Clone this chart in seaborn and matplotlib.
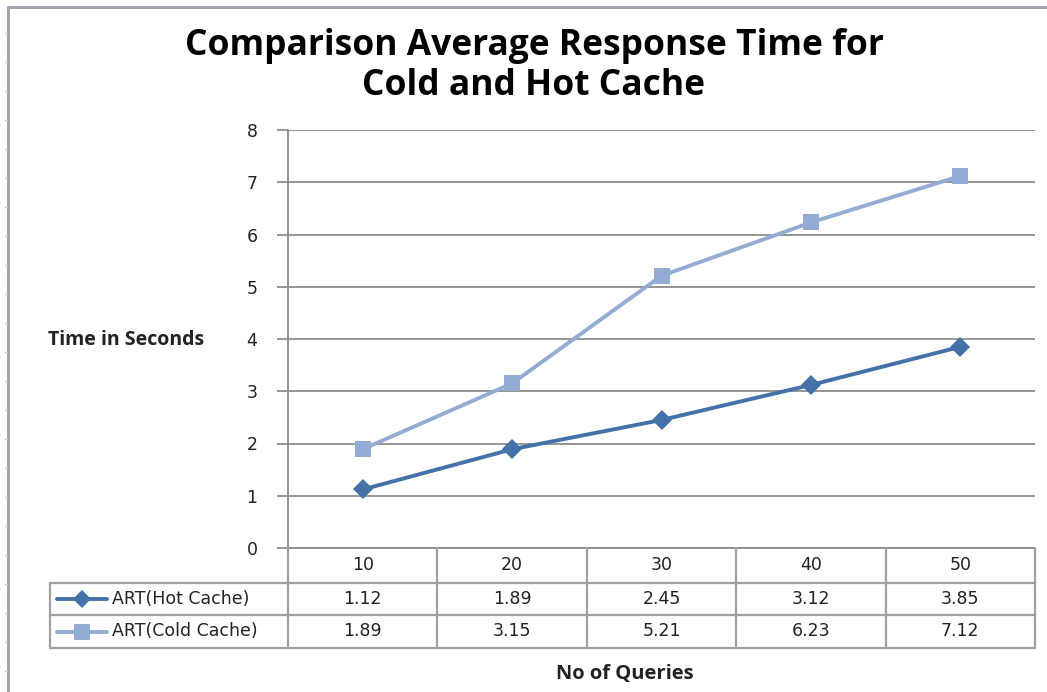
import numpy as np
import matplotlib
matplotlib.use("Agg")
import matplotlib.pyplot as plt
from matplotlib.lines import Line2D
from matplotlib.transforms import blended_transform_factory
import seaborn as sns

# Data
queries = [10, 20, 30, 40, 50]
hot_cache = [1.12, 1.89, 2.45, 3.12, 3.85]
cold_cache = [1.89, 3.15, 5.21, 6.23, 7.12]
series_names = ["ART(Hot Cache)", "ART(Cold Cache)"]
y_ticks = [0, 1, 2, 3, 4, 5, 6, 7, 8]

HOT = "#4471A8"
COLD = "#94ACD4"
GRID = "#8c8c8c"
TABLE = "#a0a0a0"
TXT = "#222222"
FS = 12.5

sns.set_style("white")
plt.rcParams["font.family"] = ["DejaVu Sans"]

W, H = 1047, 692
fig = plt.figure(figsize=(W / 100, H / 100), dpi=100)


def fx(px):
    return px / W


def fy(py):
    return 1 - py / H


# plot area
ax = fig.add_axes([fx(288), fy(548), fx(1035) - fx(288), fy(130) - fy(548)])
xpos = np.arange(len(queries))

ax.set_xlim(-0.5, len(queries) - 0.5)
ax.set_ylim(0, 8)
ax.set_yticks(y_ticks)
ax.set_yticklabels([str(v) for v in y_ticks], fontsize=FS, color=TXT)
ax.set_xticks([])
ax.yaxis.grid(True, color=GRID, linewidth=1.3)
ax.set_axisbelow(True)
for s in ("top", "right"):
    ax.spines[s].set_visible(False)
for s in ("left", "bottom"):
    ax.spines[s].set_color(GRID)
    ax.spines[s].set_linewidth(1.3)
ax.tick_params(axis="y", direction="out", length=8, width=1.3, color=GRID, pad=14, left=True)

sns.lineplot(x=xpos, y=hot_cache, ax=ax, color=HOT, linewidth=2.8, marker="D",
             markersize=10, markeredgewidth=0, zorder=4)
sns.lineplot(x=xpos, y=cold_cache, ax=ax, color=COLD, linewidth=2.8, marker="s",
             markersize=12, markeredgewidth=0, zorder=3)
ax.set_xlabel("")
ax.set_ylabel("")

# data table under the plot
bt = blended_transform_factory(ax.transData, fig.transFigure)
row_edges = [548, 583, 615, 648]
right = len(queries) - 0.5
for b in np.arange(len(queries) + 1) - 0.5:
    fig.add_artist(Line2D([b, b], [fy(548), fy(648)], transform=bt, color=TABLE, lw=1.6))
x_right_fig = fig.transFigure.inverted().transform(ax.transData.transform((right, 0)))[0]
for r in row_edges[1:]:
    fig.add_artist(Line2D([fx(50), x_right_fig], [fy(r), fy(r)], transform=fig.transFigure,
                          color=TABLE, lw=1.6))
fig.add_artist(Line2D([fx(50), fx(50)], [fy(583), fy(648)], transform=fig.transFigure,
                      color=TABLE, lw=1.6))

hdr_y = fy((548 + 583) / 2)
row_y = [fy((583 + 615) / 2), fy((615 + 648) / 2)]
for i, q in enumerate(queries):
    fig.text(xpos[i], hdr_y, str(q), transform=bt, ha="center", va="center", fontsize=FS, color=TXT)
    fig.text(xpos[i], row_y[0], f"{hot_cache[i]:.2f}", transform=bt, ha="center", va="center",
             fontsize=FS, color=TXT)
    fig.text(xpos[i], row_y[1], f"{cold_cache[i]:.2f}", transform=bt, ha="center", va="center",
             fontsize=FS, color=TXT)

# legend keys inside the table
for ry, name, col, mk, ms in zip(row_y, series_names, [HOT, COLD], ["D", "s"], [9, 11]):
    fig.add_artist(Line2D([fx(57), fx(107)], [ry, ry], transform=fig.transFigure, color=col, lw=2.8))
    fig.add_artist(Line2D([fx(82)], [ry], transform=fig.transFigure, color=col, marker=mk,
                          markersize=ms, markeredgewidth=0, linestyle="none"))
    fig.text(fx(112), ry, name, ha="left", va="center", fontsize=FS, color=TXT)

# titles
TITLE_FONT = ["Open Sans", "DejaVu Sans"]
fig.text(fx(534), fy(46), "Comparison Average Response Time for", ha="center", va="center",
         fontsize=25.5, fontweight="bold", family=TITLE_FONT, color="black")
fig.text(fx(534), fy(86), "Cold and Hot Cache", ha="center", va="center",
         fontsize=25.5, fontweight="bold", family=TITLE_FONT, color="black")
fig.text(fx(126), fy(340), "Time in Seconds", ha="center", va="center",
         fontsize=14, fontweight="bold", family=TITLE_FONT, color=TXT)
fig.text(fx(625), fy(674), "No of Queries", ha="center", va="center",
         fontsize=14.5, fontweight="bold", family=TITLE_FONT, color=TXT)

# chart frame
FRAME = "#a4a4b0"
fig.add_artist(Line2D([fx(8), fx(1047)], [fy(7), fy(7)], transform=fig.transFigure, color=FRAME, lw=2.2))
fig.add_artist(Line2D([fx(8), fx(8)], [fy(7), fy(692)], transform=fig.transFigure, color=FRAME, lw=2.2))
for ty in np.arange(33, 692, 29):
    fig.add_artist(Line2D([fx(5), fx(7)], [fy(ty), fy(ty)], transform=fig.transFigure,
                          color="#c8c8d0", lw=1))

fig.savefig("out.png", dpi=100)
